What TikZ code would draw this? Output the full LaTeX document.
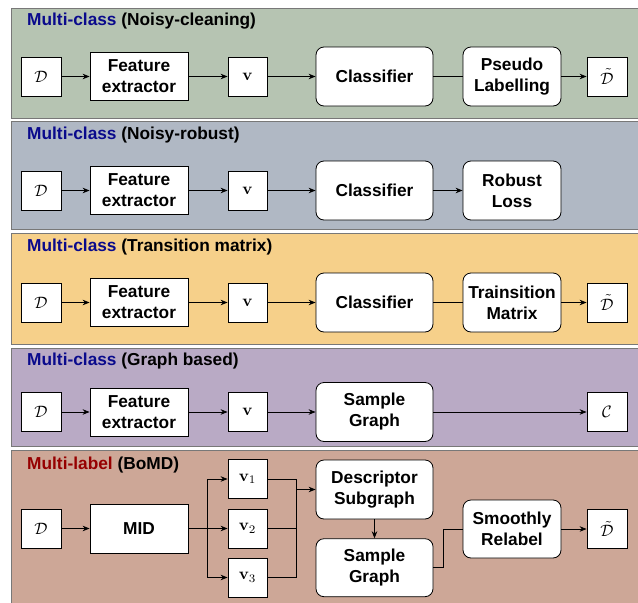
\documentclass[tikz,border=0pt]{standalone}
\usepackage[no-math]{fontspec}
\setmainfont{Liberation Sans}
\usetikzlibrary{arrows.meta}
\definecolor{pgreen}{RGB}{182,196,178}
\definecolor{pgray}{RGB}{176,184,196}
\definecolor{porange}{RGB}{246,208,138}
\definecolor{ppurple}{RGB}{185,170,197}
\definecolor{pbrown}{RGB}{205,167,151}
\definecolor{tblue}{RGB}{10,10,140}
\definecolor{tred}{RGB}{150,0,0}
\definecolor{pborder}{RGB}{120,120,120}
\newcommand{\mysym}[1]{\scalebox{1.65}{$#1$}}
\tikzset{
  panel/.style={draw=pborder, line width=0.8pt},
  txt/.style={font=\fontsize{17.3}{21}\selectfont\bfseries},
  sq/.style={draw, fill=white, line width=0.8pt, minimum width=40pt, minimum height=39pt, inner sep=0pt},
  fe/.style={txt, draw, fill=white, line width=0.8pt, minimum width=98pt, minimum height=48pt, inner sep=0pt, align=center},
  rbox/.style={txt, draw, fill=white, line width=0.8pt, rounded corners=8pt, minimum height=59pt, inner sep=0pt, align=center},
  arr/.style={-{Stealth[length=7pt,width=5.5pt]}, line width=0.8pt},
  ln/.style={line width=0.8pt},
  ttl/.style={txt, anchor=west, inner sep=0pt}
}
\begin{document}
\begin{tikzpicture}[x=1pt,y=-1pt]
\useasboundingbox (0,0) rectangle (638,603);
% panels
\fill[white] (0,0) rectangle (638,603);
\draw[panel, fill=pgreen] (11,8) rectangle (639,118);
\draw[panel, fill=pgray] (11,121) rectangle (639,229);
\draw[panel, fill=porange] (11,233) rectangle (639,344);
\draw[panel, fill=ppurple] (11,348) rectangle (639,446);
\draw[panel, fill=pbrown] (11,450) rectangle (639,604);

% ---- panel 1
\node[ttl] (t1) at (27,21) {\textcolor{tblue}{Multi-class} (Noisy-cleaning)};
\node[sq] (d1) at (41,76.5) {\mysym{\mathcal{D}}};
\node[fe] (f1) at (139,76.5) {Feature\\extractor};
\node[sq, minimum width=39pt] (v1a) at (247.5,76.5) {\mysym{\mathbf{v}}};
\node[rbox, minimum width=117pt] (c1) at (374.5,76.5) {Classifier};
\node[rbox, minimum width=98pt] (p1) at (512,76.5) {Pseudo\\Labelling};
\node[sq] (o1) at (607,76.5) {\mysym{\tilde{\mathcal{D}}}};
\draw[arr] (d1) -- (f1);
\draw[arr] (f1) -- (v1a);
\draw[arr] (v1a) -- (c1);
\draw[ln] (c1) -- (p1);
\draw[arr] (p1) -- (o1);

% ---- panel 2
\node[ttl] (t2) at (27,135) {\textcolor{tblue}{Multi-class} (Noisy-robust)};
\node[sq] (d2) at (41,190.5) {\mysym{\mathcal{D}}};
\node[fe] (f2) at (139,190.5) {Feature\\extractor};
\node[sq, minimum width=39pt] (v2a) at (247.5,190.5) {\mysym{\mathbf{v}}};
\node[rbox, minimum width=117pt] (c2) at (374.5,190.5) {Classifier};
\node[rbox, minimum width=98pt] (r2) at (512,190.5) {Robust\\Loss};
\draw[arr] (d2) -- (f2);
\draw[arr] (f2) -- (v2a);
\draw[arr] (v2a) -- (c2);
\draw[arr] (c2) -- (r2);

% ---- panel 3
\node[ttl] (t3) at (27,247) {\textcolor{tblue}{Multi-class} (Transition matrix)};
\node[sq] (d3) at (41,302.5) {\mysym{\mathcal{D}}};
\node[fe] (f3) at (139,302.5) {Feature\\extractor};
\node[sq, minimum width=39pt] (v3a) at (247.5,302.5) {\mysym{\mathbf{v}}};
\node[rbox, minimum width=117pt] (c3) at (374.5,302.5) {Classifier};
\node[rbox, minimum width=98pt] (m3) at (512,302.5) {Trainsition\\Matrix};
\node[sq] (o3) at (607,302.5) {\mysym{\tilde{\mathcal{D}}}};
\draw[arr] (d3) -- (f3);
\draw[arr] (f3) -- (v3a);
\draw[arr] (v3a) -- (c3);
\draw[ln] (c3) -- (m3);
\draw[arr] (m3) -- (o3);

% ---- panel 4
\node[ttl] (t4) at (27,361) {\textcolor{tblue}{Multi-class} (Graph based)};
\node[sq] (d4) at (41,412) {\mysym{\mathcal{D}}};
\node[fe] (f4) at (139,412) {Feature\\extractor};
\node[sq, minimum width=39pt] (v4a) at (247.5,412) {\mysym{\mathbf{v}}};
\node[rbox, minimum width=117pt] (g4) at (374.5,412) {Sample\\Graph};
\node[sq] (o4) at (607,412) {\mysym{\mathcal{C}}};
\draw[arr] (d4) -- (f4);
\draw[arr] (f4) -- (v4a);
\draw[arr] (v4a) -- (g4);
\draw[arr] (g4) -- (o4);

% ---- panel 5
\node[ttl] (t5) at (27,465) {\textcolor{tred}{Multi-label} (BoMD)};
\node[sq] (d5) at (41,528.5) {\mysym{\mathcal{D}}};
\node[fe, minimum height=49pt] (mid) at (139,528.5) {MID};
\node[sq, minimum width=39pt] (w1) at (247.5,479) {\mysym{\mathbf{v}_1}};
\node[sq, minimum width=39pt] (w2) at (247.5,528.5) {\mysym{\mathbf{v}_2}};
\node[sq, minimum width=39pt] (w3) at (247.5,577.5) {\mysym{\mathbf{v}_3}};
\node[rbox, minimum width=117pt] (ds) at (374.5,489.5) {Descriptor\\Subgraph};
\node[rbox, minimum width=117pt, minimum height=58pt] (sg) at (374.5,567.7) {Sample\\Graph};
\node[rbox, minimum width=98pt, minimum height=58pt] (sr) at (512,529) {Smoothly\\Relabel};
\node[sq] (o5) at (607,529) {\mysym{\tilde{\mathcal{D}}}};
\coordinate (b1) at (207.3,528.5);
\coordinate (j1) at (296,489.5);
\coordinate (k1) at (443.3,567.7);
\draw[arr] (d5) -- (mid);
\draw[ln] (mid.east) -- (b1);
\draw[arr] (b1) |- (w1.west);
\draw[arr] (b1) -- (w2.west);
\draw[arr] (b1) |- (w3.west);
\draw[ln] (w1.east) -| (j1);
\draw[ln] (w2.east) -| (j1);
\draw[ln] (w3.east) -| (j1);
\draw[arr] (j1) -- (ds.west);
\draw[arr] (ds.south) -- (sg.north);
\draw[ln] (sg.east) -- (k1) |- (sr.west);
\draw[arr] (sr) -- (o5);
\end{tikzpicture}
\end{document}
